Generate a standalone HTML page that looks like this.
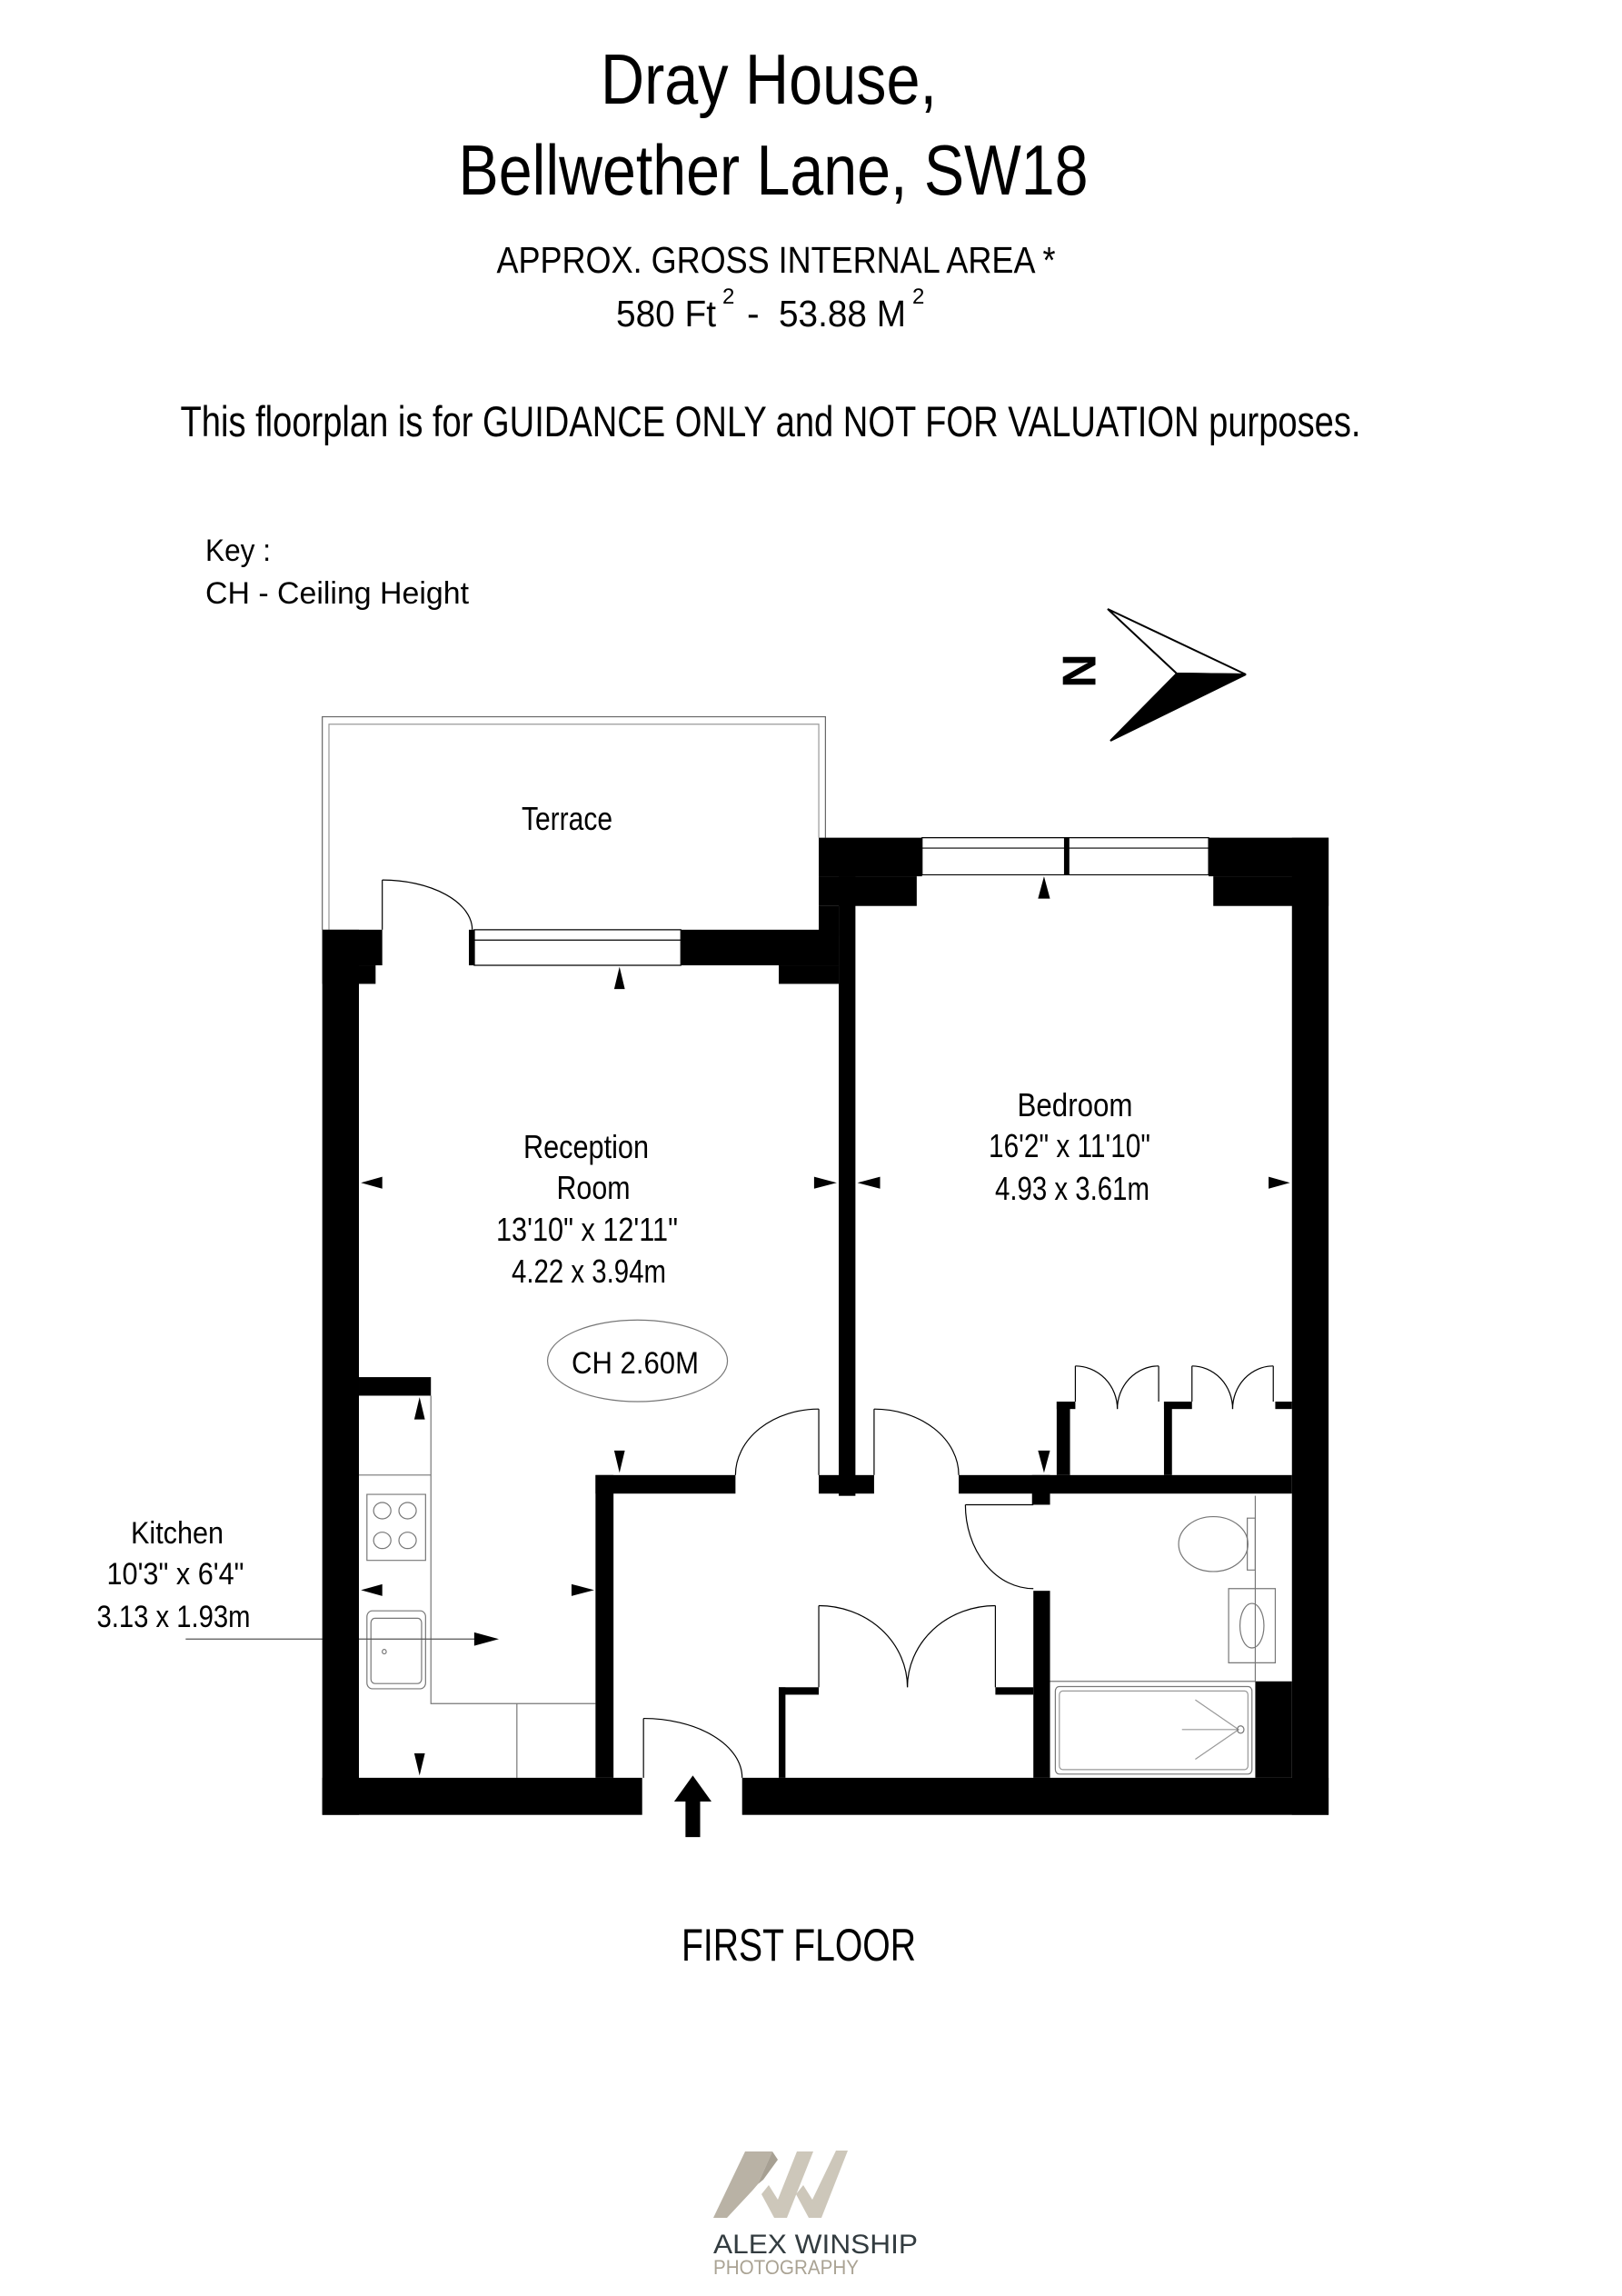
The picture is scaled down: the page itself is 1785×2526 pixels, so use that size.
<!DOCTYPE html>
<html><head><meta charset="utf-8"><style>
html,body{margin:0;padding:0;background:#fff}
svg{display:block}
text{font-family:"Liberation Sans Narrow","Liberation Sans",sans-serif;fill:#000}
</style></head><body>
<svg width="1785" height="2526" viewBox="0 0 1785 2526" xmlns="http://www.w3.org/2000/svg">
<rect width="1785" height="2526" fill="#fff"/>
<!-- Titles -->
<text x="846" y="114" font-size="78" text-anchor="middle" textLength="370" lengthAdjust="spacingAndGlyphs">Dray House,</text>
<text x="851" y="214" font-size="78" text-anchor="middle" textLength="693" lengthAdjust="spacingAndGlyphs">Bellwether Lane, SW18</text>
<text x="854" y="300" font-size="41" text-anchor="middle" textLength="615" lengthAdjust="spacingAndGlyphs">APPROX. GROSS INTERNAL  AREA *</text>
<text x="678" y="359" font-size="41" textLength="110" lengthAdjust="spacingAndGlyphs">580 Ft</text>
<text x="795" y="334" font-size="24">2</text>
<text x="822" y="359" font-size="41">-</text>
<text x="857" y="359" font-size="41" textLength="140" lengthAdjust="spacingAndGlyphs">53.88 M</text>
<text x="1004" y="334" font-size="24">2</text>
<text x="848" y="480" font-size="47" text-anchor="middle" textLength="1299" lengthAdjust="spacingAndGlyphs">This floorplan is for GUIDANCE ONLY and NOT FOR VALUATION purposes.</text>
<text x="226" y="617" font-size="34" textLength="72" lengthAdjust="spacingAndGlyphs">Key :</text>
<text x="226" y="664" font-size="34" textLength="290" lengthAdjust="spacingAndGlyphs">CH - Ceiling Height</text>

<!-- Compass -->
<text x="1192" y="738" font-size="52" font-weight="bold" text-anchor="middle" dominant-baseline="middle" transform="rotate(-90 1192 738)" style="font-family:'Liberation Sans',sans-serif">N</text>
<polygon points="1219,670 1371,742 1295,741" fill="#fff" stroke="#000" stroke-width="2"/>
<polygon points="1295,741 1371,742 1222,815" fill="#000" stroke="#000" stroke-width="2"/>

<!-- Plan in zoom coords -->
<g transform="translate(340,760) scale(0.7334,0.8163)">
<g fill="none" stroke="#000" stroke-width="1.2">
<polyline points="20,322 20,35 775,35 775,198" vector-effect="non-scaling-stroke" stroke="#666"/>
<polyline points="30,322 30,45 765,45 765,198" vector-effect="non-scaling-stroke" stroke="#999"/>
<rect x="248" y="322" width="310" height="48" vector-effect="non-scaling-stroke"/>
<line x1="248" y1="336" x2="558" y2="336" vector-effect="non-scaling-stroke"/>
<rect x="920" y="198" width="430" height="50" vector-effect="non-scaling-stroke"/>
<line x1="920" y1="212" x2="1350" y2="212" vector-effect="non-scaling-stroke"/>
<line x1="110" y1="255" x2="110" y2="322" vector-effect="non-scaling-stroke"/>
<path d="M110,255 A135,67 0 0 1 245,322" vector-effect="non-scaling-stroke"/>
<line x1="765" y1="968" x2="765" y2="1057" vector-effect="non-scaling-stroke"/>
<path d="M765,968 A125,89 0 0 0 640,1057" vector-effect="non-scaling-stroke"/>
<line x1="848" y1="968" x2="848" y2="1057" vector-effect="non-scaling-stroke"/>
<path d="M848,968 A127,89 0 0 1 975,1057" vector-effect="non-scaling-stroke"/>
<line x1="985" y1="1097" x2="1087" y2="1097" vector-effect="non-scaling-stroke"/>
<path d="M985,1097 A102,113 0 0 0 1087,1210" vector-effect="non-scaling-stroke"/>
<line x1="502" y1="1385" x2="502" y2="1465" vector-effect="non-scaling-stroke"/>
<path d="M502,1385 A148,80 0 0 1 650,1465" vector-effect="non-scaling-stroke"/>
<line x1="765" y1="1233" x2="765" y2="1343" vector-effect="non-scaling-stroke"/>
<path d="M765,1233 A133,110 0 0 1 898,1343" vector-effect="non-scaling-stroke"/>
<line x1="1030" y1="1233" x2="1030" y2="1343" vector-effect="non-scaling-stroke"/>
<path d="M1030,1233 A132,110 0 0 0 898,1343" vector-effect="non-scaling-stroke"/>
<line x1="1150" y1="910" x2="1150" y2="958" vector-effect="non-scaling-stroke"/>
<path d="M1150,910 A63,58 0 0 1 1213,968" vector-effect="non-scaling-stroke"/>
<line x1="1275" y1="910" x2="1275" y2="958" vector-effect="non-scaling-stroke"/>
<path d="M1275,910 A62,58 0 0 0 1213,968" vector-effect="non-scaling-stroke"/>
<line x1="1325" y1="910" x2="1325" y2="958" vector-effect="non-scaling-stroke"/>
<path d="M1325,910 A61,58 0 0 1 1386,968" vector-effect="non-scaling-stroke"/>
<line x1="1447" y1="910" x2="1447" y2="958" vector-effect="non-scaling-stroke"/>
<path d="M1447,910 A61,58 0 0 0 1386,968" vector-effect="non-scaling-stroke"/>
<polyline points="183,950 183,1365 430,1365" vector-effect="non-scaling-stroke" stroke="#777"/>
<line x1="75" y1="1057" x2="183" y2="1057" vector-effect="non-scaling-stroke" stroke="#777"/>
<line x1="312" y1="1365" x2="312" y2="1465" vector-effect="non-scaling-stroke" stroke="#777"/>
<rect x="87" y="1083" width="88" height="89" vector-effect="non-scaling-stroke" stroke="#777"/>
<ellipse cx="110" cy="1105" rx="13" ry="11" vector-effect="non-scaling-stroke" stroke="#777"/>
<ellipse cx="148" cy="1105" rx="13" ry="11" vector-effect="non-scaling-stroke" stroke="#777"/>
<ellipse cx="110" cy="1145" rx="13" ry="11" vector-effect="non-scaling-stroke" stroke="#777"/>
<ellipse cx="148" cy="1145" rx="13" ry="11" vector-effect="non-scaling-stroke" stroke="#777"/>
<rect x="87" y="1240" width="88" height="105" rx="8" vector-effect="non-scaling-stroke" stroke="#777"/>
<rect x="93" y="1250" width="76" height="88" rx="6" vector-effect="non-scaling-stroke" stroke="#777"/>
<circle cx="113" cy="1295" r="3" vector-effect="non-scaling-stroke" stroke="#777"/>
<line x1="-185" y1="1278" x2="250" y2="1278" vector-effect="non-scaling-stroke" stroke="#555"/>
<line x1="1420" y1="1085" x2="1420" y2="1335" vector-effect="non-scaling-stroke" stroke="#777"/>
<line x1="1112" y1="1335" x2="1420" y2="1335" vector-effect="non-scaling-stroke" stroke="#777"/>
<ellipse cx="1357" cy="1150" rx="52" ry="37" vector-effect="non-scaling-stroke" stroke="#777"/>
<rect x="1408" y="1115" width="12" height="70" vector-effect="non-scaling-stroke" stroke="#777"/>
<rect x="1380" y="1210" width="70" height="100" vector-effect="non-scaling-stroke" stroke="#777"/>
<ellipse cx="1415" cy="1260" rx="18" ry="30" vector-effect="non-scaling-stroke" stroke="#777"/>
<rect x="1120" y="1342" width="295" height="118" rx="6" vector-effect="non-scaling-stroke" stroke="#777"/>
<rect x="1126" y="1348" width="283" height="106" rx="5" vector-effect="non-scaling-stroke" stroke="#999"/>
<path d="M1310,1400 L1395,1400 M1330,1360 L1395,1400 L1330,1440" vector-effect="non-scaling-stroke" stroke="#999"/>
<circle cx="1398" cy="1400" r="5" vector-effect="non-scaling-stroke" stroke="#777"/>
<ellipse cx="493" cy="903" rx="135" ry="55" vector-effect="non-scaling-stroke" stroke="#777"/>
</g>
<g fill="#000">
<rect x="20" y="322" width="90" height="48"/>
<rect x="20" y="370" width="80" height="25"/>
<rect x="20" y="322" width="55" height="1193"/>
<rect x="20" y="1465" width="480" height="50"/>
<rect x="650" y="1465" width="880" height="50"/>
<rect x="240" y="322" width="9" height="48"/>
<rect x="558" y="322" width="237" height="48"/>
<rect x="705" y="370" width="90" height="25"/>
<rect x="765" y="198" width="155" height="52"/>
<rect x="765" y="250" width="147" height="40"/>
<rect x="765" y="290" width="30" height="40"/>
<rect x="795" y="250" width="25" height="835"/>
<rect x="1133" y="198" width="8" height="50"/>
<rect x="1350" y="198" width="180" height="52"/>
<rect x="1357" y="250" width="173" height="40"/>
<rect x="1475" y="198" width="55" height="1317"/>
<rect x="75" y="925" width="108" height="25"/>
<rect x="430" y="1057" width="27" height="408"/>
<rect x="430" y="1057" width="210" height="25"/>
<rect x="765" y="1057" width="83" height="25"/>
<rect x="975" y="1057" width="500" height="25"/>
<rect x="1085" y="1057" width="27" height="40"/>
<rect x="1087" y="1213" width="25" height="252"/>
<rect x="1122" y="958" width="20" height="99"/>
<rect x="1122" y="958" width="28" height="10"/>
<rect x="1283" y="958" width="12" height="99"/>
<rect x="1283" y="958" width="42" height="10"/>
<rect x="1450" y="958" width="25" height="10"/>
<rect x="705" y="1343" width="60" height="10"/>
<rect x="705" y="1343" width="10" height="122"/>
<rect x="1030" y="1343" width="57" height="10"/>
<rect x="1420" y="1335" width="55" height="130"/>
<polygon points="466,372 458,402 474,402"/>
<polygon points="1103,250 1094,280 1112,280"/>
<polygon points="78,663 110,655 110,671"/>
<polygon points="792,663 758,655 758,671"/>
<polygon points="823,663 857,655 857,671"/>
<polygon points="1472,663 1440,655 1440,671"/>
<polygon points="166,952 158,982 174,982"/>
<polygon points="466,1054 458,1024 474,1024"/>
<polygon points="1103,1054 1094,1024 1112,1024"/>
<polygon points="78,1212 110,1204 110,1220"/>
<polygon points="428,1212 394,1204 394,1220"/>
<polygon points="285,1278 248,1269 248,1287"/>
<polygon points="166,1462 158,1432 174,1432"/>
<polygon points="576,1462 548,1497 565,1497 565,1545 587,1545 587,1497 604,1497"/>
</g>
</g>

<!-- Plan labels -->
<text x="624" y="913" font-size="36" text-anchor="middle" textLength="100" lengthAdjust="spacingAndGlyphs">Terrace</text>
<text x="645" y="1274" font-size="36" text-anchor="middle" textLength="138" lengthAdjust="spacingAndGlyphs">Reception</text>
<text x="653" y="1319" font-size="36" text-anchor="middle" textLength="81" lengthAdjust="spacingAndGlyphs">Room</text>
<text x="646" y="1365" font-size="36" text-anchor="middle" textLength="200" lengthAdjust="spacingAndGlyphs">13'10" x 12'11"</text>
<text x="648" y="1411" font-size="36" text-anchor="middle" textLength="170" lengthAdjust="spacingAndGlyphs">4.22 x 3.94m</text>
<text x="699" y="1511" font-size="34" text-anchor="middle" textLength="140" lengthAdjust="spacingAndGlyphs">CH 2.60M</text>
<text x="1183" y="1228" font-size="36" text-anchor="middle" textLength="127" lengthAdjust="spacingAndGlyphs">Bedroom</text>
<text x="1177" y="1273" font-size="36" text-anchor="middle" textLength="178" lengthAdjust="spacingAndGlyphs">16'2" x 11'10"</text>
<text x="1180" y="1320" font-size="36" text-anchor="middle" textLength="170" lengthAdjust="spacingAndGlyphs">4.93 x 3.61m</text>
<text x="195" y="1698" font-size="34" text-anchor="middle" textLength="102" lengthAdjust="spacingAndGlyphs">Kitchen</text>
<text x="193" y="1743" font-size="34" text-anchor="middle" textLength="151" lengthAdjust="spacingAndGlyphs">10'3" x 6'4"</text>
<text x="191" y="1790" font-size="34" text-anchor="middle" textLength="169" lengthAdjust="spacingAndGlyphs">3.13 x 1.93m</text>
<text x="879" y="2157" font-size="50" text-anchor="middle" textLength="258" lengthAdjust="spacingAndGlyphs" style="font-family:'Liberation Sans',sans-serif">FIRST FLOOR</text>

<!-- Logo -->
<polygon points="820,2367 850,2367 834,2403 828,2410 800,2440 785,2440" fill="#b9b2a5"/>
<polygon points="850,2367 856,2376 840,2398 834,2403" fill="#a7a093"/>
<polygon points="877,2367 895,2367 866,2440 852,2440 838,2414 846,2404 856,2420" fill="#cdc7ba"/>
<polygon points="920,2366 933,2366 904,2440 890,2440 876,2414 884,2404 894,2420" fill="#cdc7ba"/>
<text x="785" y="2479" font-size="30" style="font-family:'Liberation Sans',sans-serif;fill:#333c40" textLength="225" lengthAdjust="spacingAndGlyphs">ALEX WINSHIP</text>
<text x="785" y="2502" font-size="22" style="font-family:'Liberation Sans',sans-serif;fill:#aaa394" textLength="160" lengthAdjust="spacingAndGlyphs">PHOTOGRAPHY</text>
</svg>
</body></html>
